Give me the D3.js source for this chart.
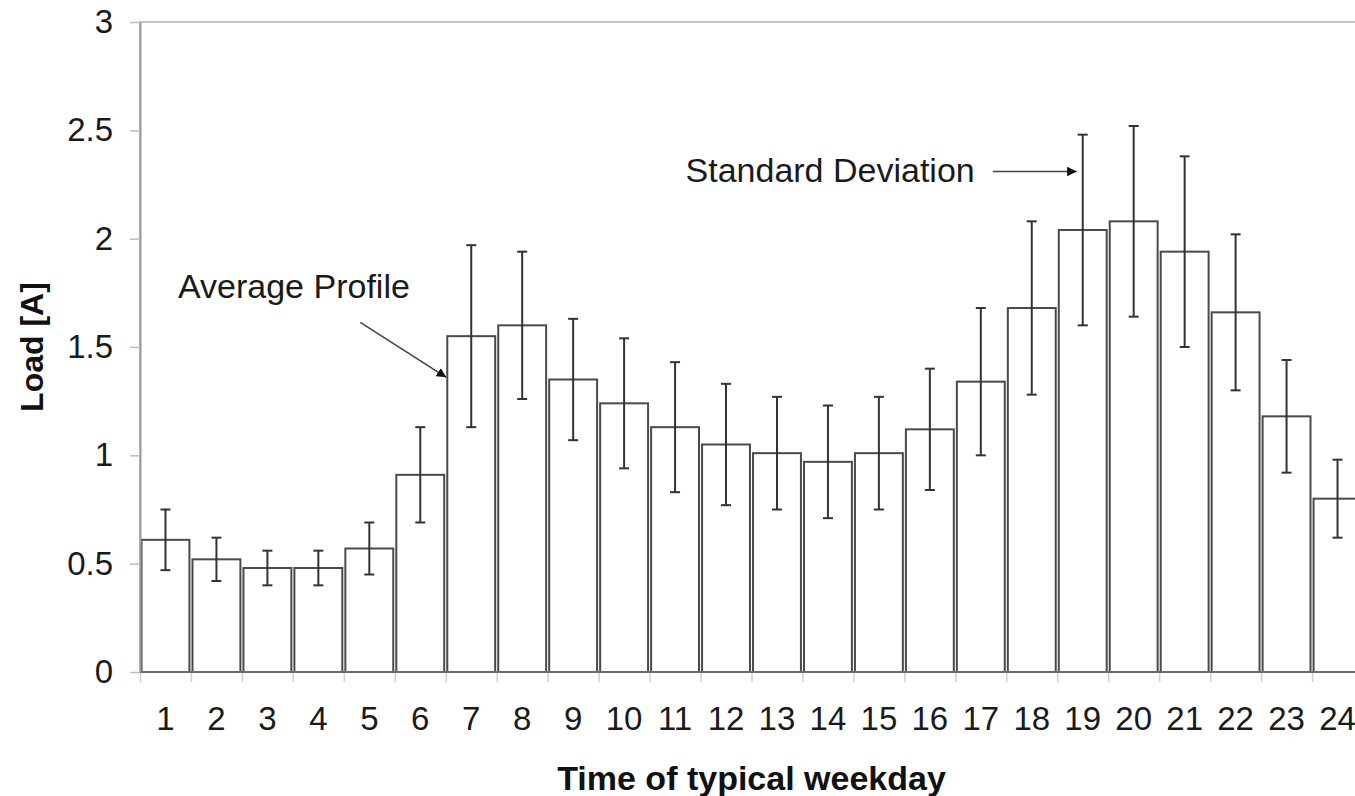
<!DOCTYPE html>
<html>
<head>
<meta charset="utf-8">
<script src="https://cdn.jsdelivr.net/npm/d3@7"></script>
<style>
  html, body { margin: 0; padding: 0; background: #fff; }
  svg { display: block; font-family: "Liberation Sans", Arial, sans-serif; }
</style>
</head>
<body>
<svg id="chart" width="1355" height="796"></svg>
<script>
// ---- data ----
const hours = ["1","2","3","4","5","6","7","8","9","10","11","12","13","14","15","16","17","18","19","20","21","22","23","24"];
const avgLoad = [0.61,0.52,0.48,0.48,0.57,0.91,1.55,1.60,1.35,1.24,1.13,1.05,1.01,0.97,1.01,1.12,1.34,1.68,2.04,2.08,1.94,1.66,1.18,0.80];
const stdDev  = [0.14,0.10,0.08,0.08,0.12,0.22,0.42,0.34,0.28,0.30,0.30,0.28,0.26,0.26,0.26,0.28,0.34,0.40,0.44,0.44,0.44,0.36,0.26,0.18];
const yTicks = [0,0.5,1,1.5,2,2.5,3];
const xTitle = "Time of typical weekday";
const yTitle = "Load [A]";
const annAvg = "Average Profile";
const annSd = "Standard Deviation";

const data = hours.map((h,i) => ({h, v: avgLoad[i], sd: stdDev[i]}));

// ---- layout ----
const svg = d3.select("#chart");
const pLeft = 140, pRight = 1363, pTop = 22, pBottom = 672;

const x = d3.scaleBand().domain(hours).range([pLeft, pRight]).paddingInner(0.06).paddingOuter(0.03);
const xb = d3.scaleLinear().domain([0, hours.length]).range([pLeft, pRight]);
const y = d3.scaleLinear().domain([0, 3]).range([pBottom, pTop]);

svg.append("rect").attr("width",1355).attr("height",796).attr("fill","#fff");

// plot border
svg.append("rect")
  .attr("x", pLeft).attr("y", pTop)
  .attr("width", pRight - pLeft).attr("height", pBottom - pTop)
  .attr("fill", "none").attr("stroke", "#c4c4c4").attr("stroke-width", 2);

// boundary ticks on x axis
const xTickAxis = svg.append("g").attr("transform", `translate(0,${pBottom})`)
  .call(d3.axisBottom(xb).tickValues(d3.range(0, hours.length + 1)).tickFormat("").tickSize(10).tickSizeOuter(0));
xTickAxis.select(".domain").remove();
xTickAxis.selectAll("line").attr("stroke", "#cfcfcf").attr("stroke-width", 1.5);

// bars
svg.append("g").selectAll("rect").data(data).join("rect")
  .attr("x", d => x(d.h))
  .attr("y", d => y(d.v))
  .attr("width", x.bandwidth())
  .attr("height", d => y(0) - y(d.v))
  .attr("fill", "#fff")
  .attr("stroke", "#4a4a4a")
  .attr("stroke-width", 2);

// error bars
const eb = svg.append("g").attr("stroke", "#333").attr("stroke-width", 2);
const cx = d => x(d.h) + x.bandwidth() / 2;
eb.selectAll("line.v").data(data).join("line").attr("class","v")
  .attr("x1", cx).attr("x2", cx)
  .attr("y1", d => y(d.v + d.sd)).attr("y2", d => y(d.v - d.sd));
eb.selectAll("line.t").data(data).join("line").attr("class","t")
  .attr("x1", d => cx(d) - 5).attr("x2", d => cx(d) + 5)
  .attr("y1", d => y(d.v + d.sd)).attr("y2", d => y(d.v + d.sd));
eb.selectAll("line.b").data(data).join("line").attr("class","b")
  .attr("x1", d => cx(d) - 5).attr("x2", d => cx(d) + 5)
  .attr("y1", d => y(d.v - d.sd)).attr("y2", d => y(d.v - d.sd));

// x axis baseline
svg.append("line")
  .attr("x1", pLeft).attr("x2", pRight).attr("y1", y(0)).attr("y2", y(0))
  .attr("stroke", "#6a6a6a").attr("stroke-width", 2);

// y axis
const yAxis = svg.append("g").attr("transform", `translate(${pLeft},0)`)
  .call(d3.axisLeft(y).tickValues(yTicks).tickFormat(d3.format("")).tickSize(10).tickPadding(17).tickSizeOuter(0));
yAxis.select(".domain").attr("stroke", "#9a9a9a").attr("stroke-width", 2);
yAxis.selectAll(".tick line").attr("stroke", "#bdbdbd").attr("stroke-width", 1.5);
yAxis.selectAll("text").attr("font-size", 33).attr("fill", "#1a1a1a")
  .attr("font-family", "Liberation Sans, Arial, sans-serif");

// x labels
const xAxis = svg.append("g").attr("transform", `translate(0,${pBottom})`)
  .call(d3.axisBottom(x).tickSize(0).tickPadding(35));
xAxis.select(".domain").remove();
xAxis.selectAll("text").attr("font-size", 33).attr("fill", "#1a1a1a")
  .attr("font-family", "Liberation Sans, Arial, sans-serif");

// axis titles
svg.append("text")
  .attr("x", (pLeft + pRight) / 2).attr("y", 790)
  .attr("text-anchor", "middle").attr("font-size", 34).attr("font-weight", "bold").attr("fill", "#111")
  .text(xTitle);
svg.append("text")
  .attr("transform", `translate(43,${(pTop + pBottom) / 2}) rotate(-90)`)
  .attr("text-anchor", "middle").attr("font-size", 32).attr("font-weight", "bold").attr("fill", "#111")
  .text(yTitle);

// arrow marker
svg.append("defs").append("marker")
  .attr("id", "arrow").attr("viewBox", "0 0 10 10").attr("refX", 10).attr("refY", 5)
  .attr("markerWidth", 6).attr("markerHeight", 6).attr("markerUnits", "strokeWidth")
  .attr("orient", "auto")
  .append("path").attr("d", "M0,0 L10,5 L0,10 Z").attr("fill", "#111");

// annotation: Average Profile
const i7 = hours[6];
const tipA = [x(i7) - 1, y(1.36)];
svg.append("line")
  .attr("x1", tipA[0] - 86).attr("y1", tipA[1] - 55)
  .attr("x2", tipA[0]).attr("y2", tipA[1])
  .attr("stroke", "#444").attr("stroke-width", 1.6).attr("marker-end", "url(#arrow)");
svg.append("text")
  .attr("x", 178).attr("y", 298)
  .attr("font-size", 34).attr("fill", "#1a1a1a").text(annAvg);

// annotation: Standard Deviation
const i19 = hours[18];
const tipS = [x(i19) + x.bandwidth() / 2 - 6, y(2.31)];
svg.append("line")
  .attr("x1", tipS[0] - 84).attr("y1", tipS[1])
  .attr("x2", tipS[0]).attr("y2", tipS[1])
  .attr("stroke", "#444").attr("stroke-width", 1.6).attr("marker-end", "url(#arrow)");
svg.append("text")
  .attr("x", tipS[0] - 102).attr("y", tipS[1] + 10).attr("text-anchor", "end")
  .attr("font-size", 34).attr("fill", "#1a1a1a").text(annSd);
</script>
</body>
</html>
